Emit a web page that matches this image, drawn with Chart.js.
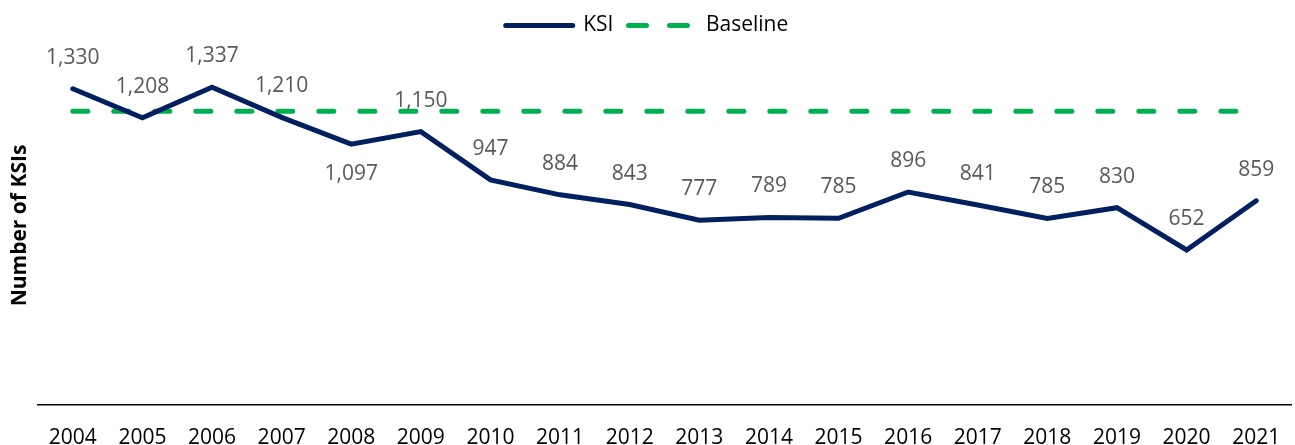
<!DOCTYPE html>
<html>
<head>
<meta charset="utf-8">
<title>KSI</title>
<script src="https://cdn.jsdelivr.net/npm/chart.js@4.4.1/dist/chart.umd.min.js"></script>
<style>
    body { margin: 0; background: #fff; overflow: hidden; }
    #wrap { width: 1295px; height: 445px; position: relative; }
</style>
</head>
<body>
<div id="wrap"><canvas id="ksi-chart"></canvas></div>
<script>
// Données du graphique
const years = ['2004', '2005', '2006', '2007', '2008', '2009', '2010', '2011', '2012',
    '2013', '2014', '2015', '2016', '2017', '2018', '2019', '2020', '2021'];
const ksiValues = [1330, 1208, 1337, 1210, 1097, 1150, 947, 884, 843,
    777, 789, 785, 896, 841, 785, 830, 652, 859];
const baselineValues = [1236, 1236, 1236, 1236, 1236, 1236, 1236, 1236, 1236,
    1236, 1236, 1236, 1236, 1236, 1236, 1236, 1236, 1236];

const NAVY = '#002060';
const GREEN = '#00b050';
const FONT = '"Open Sans", "Liberation Sans", sans-serif';

/**
 * Etiquettes de valeurs au-dessus (ou en dessous) des points de la série KSI
 */
const valueLabels = {
    id: 'valueLabels',
    afterDatasetsDraw(chart) {
        const ctx = chart.ctx;
        const meta = chart.getDatasetMeta(0);
        const below = ['2008'];
        ctx.save();
        ctx.font = '21px ' + FONT;
        ctx.fillStyle = '#595959';
        ctx.textAlign = 'center';
        ctx.textBaseline = 'middle';
        meta.data.forEach((pt, i) => {
            const v = chart.data.datasets[0].data[i];
            const dy = below.includes(years[i]) ? 30 : -31;
            ctx.fillText(v.toLocaleString('en-US'), pt.x, pt.y + dy);
        });
        ctx.restore();
    }
};

new Chart(document.getElementById('ksi-chart'), {
    type: 'line',
    data: {
        labels: years,
        datasets: [
            {
                label: 'KSI',
                data: ksiValues,
                borderColor: NAVY,
                backgroundColor: NAVY,
                borderWidth: 5,
                borderCapStyle: 'round',
                borderJoinStyle: 'miter',
                pointRadius: 0,
                pointStyle: 'line',
                tension: 0
            },
            {
                label: 'Baseline',
                data: baselineValues,
                borderColor: GREEN,
                backgroundColor: GREEN,
                borderWidth: 5,
                borderDash: [15, 26],
                borderCapStyle: 'round',
                pointRadius: 0,
                pointStyle: 'line',
                tension: 0
            }
        ]
    },
    options: {
        responsive: true,
        maintainAspectRatio: false,
        animation: false,
        layout: { padding: { top: 0, left: 3, right: 4, bottom: 0 } },
        plugins: {
            legend: {
                position: 'top',
                labels: {
                    usePointStyle: true,
                    pointStyleWidth: 67,
                    padding: 15,
                    color: '#000',
                    font: { family: FONT, size: 21 },
                    // reprendre les pointillés de la série dans la légende
                    generateLabels(chart) {
                        const items = Chart.defaults.plugins.legend.labels.generateLabels(chart);
                        items.forEach(item => {
                            const ds = chart.data.datasets[item.datasetIndex];
                            item.lineDash = ds.borderDash ? [18, 23] : [];
                            item.lineCap = 'round';
                            item.lineWidth = 5;
                            item.strokeStyle = ds.borderColor;
                        });
                        return items;
                    }
                }
            },
            tooltip: { enabled: false }
        },
        scales: {
            x: {
                offset: true,
                grid: { display: false, drawTicks: false },
                border: { display: true, color: '#000', width: 1.5 },
                ticks: {
                    color: '#000',
                    padding: 20,
                    maxRotation: 0,
                    autoSkip: false,
                    font: { family: FONT, size: 21 }
                },
                afterFit(scale) {
                    scale.height = 40;
                    scale.paddingLeft = 0;
                    scale.paddingRight = 0;
                }
            },
            y: {
                min: 0,
                max: 1510,
                grid: { display: false },
                border: { display: false },
                ticks: { display: false },
                title: {
                    display: true,
                    text: 'Number of KSIs',
                    color: '#000',
                    padding: { top: 4, bottom: 8 },
                    font: { family: FONT, size: 21, weight: 'bold' }
                },
                afterFit(scale) {
                    scale.width = 35;
                }
            }
        }
    },
    plugins: [valueLabels]
});
</script>
</body>
</html>
